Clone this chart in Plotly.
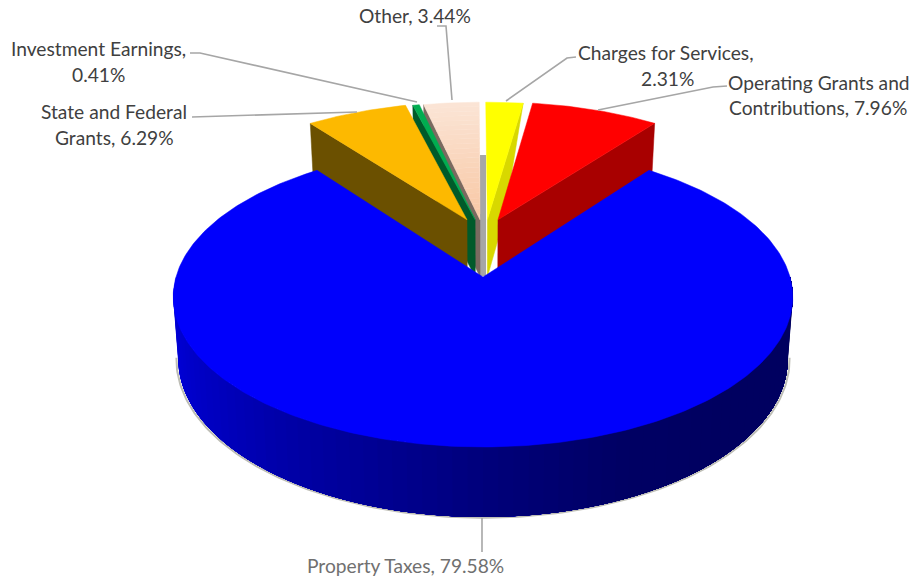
import numpy as np
import plotly.graph_objects as go

# Revenue sources, listed clockwise starting from the large slice
categories = ["Property Taxes", "State and Federal Grants", "Investment Earnings",
              "Other", "Charges for Services", "Operating Grants and Contributions"]
shares = [79.58, 6.29, 0.41, 3.44, 2.31, 7.96]

top_colors = ["#0000FC", "#FDB900", "#00AD50", "#FBE3D4", "#FFFF00", "#FF0000"]
wall_colors = [None, "#6B5000", "#005A2A", "#7A6A60", "#D8D800", "#A80000"]

# Pulled-out slices shift along the table plane (fractions of the radius)
slice_shift_u = [0.0, -0.055, -0.027, -0.0103, 0.015, 0.0515]
slice_shift_v = [0.0, -0.41, -0.41, -0.41, -0.41, -0.41]

# Perspective view of the unit disc
CX, CY = 483.0, 277.0
SCALE_U, SCALE_V = 307.0, 147.3
KEY = 0.1333
THICKNESS = 60.7
BASE_SHRINK = 0.984


def project(u, v, z=0.0):
    """Map disc coordinates (u right, v towards the viewer) to page pixels; z=1 is the underside."""
    u, v = np.asarray(u, float), np.asarray(v, float)
    w = 1 - KEY * v
    shrink = 1 - (1 - BASE_SHRINK) * z
    return CX + SCALE_U * u / w * shrink, CY + SCALE_V * v / w + THICKNESS * z / w


def polar(deg, r=1.0):
    a = np.radians(deg)
    return r * np.sin(a), -r * np.cos(a)


def polygon(xs, ys, color, width=0.0):
    xs, ys = list(map(float, xs)), list(map(float, ys))
    return go.Scatter(x=xs + [xs[0]], y=ys + [ys[0]], mode="lines", fill="toself",
                      fillcolor=color, line=dict(color=color, width=width),
                      hoverinfo="skip", showlegend=False)


# Slice angle ranges: the large slice is centred on the viewer
edges = [180 - shares[0] * 1.8]
for s in shares:
    edges.append(edges[-1] + s * 3.6)

fig = go.Figure()


def add_wall(i, wall_edge, wall_reach=1.0):
    """Radial wall on one side of a pulled-out slice."""
    du, dv = slice_shift_u[i], slice_shift_v[i]
    rim_u, rim_v = polar(wall_edge)
    low_u, low_v = polar(wall_edge, wall_reach)
    tx0, ty0 = project(du, dv)
    tx1, ty1 = project(rim_u + du, rim_v + dv)
    bx1, by1 = project(low_u + du, low_v + dv, 1)
    bx0, by0 = project(du, dv, 1)
    fig.add_trace(polygon([tx0, tx1, bx1, bx0], [ty0, ty1, by1, by0], wall_colors[i], 0.5))


def add_top(i, steps=40):
    du, dv = slice_shift_u[i], slice_shift_v[i]
    u, v = polar(np.linspace(edges[i], edges[i + 1], steps))
    x, y = project(u + du, v + dv)
    tx0, ty0 = project(du, dv)
    fig.add_trace(polygon(np.r_[tx0, x], np.r_[ty0, y], top_colors[i], 0.5))


def add_graded_top(i, inner=(248, 200, 165), outer=(251, 229, 214), bands=24):
    """Top whose tint deepens towards the centre, painted as concentric bands."""
    du, dv = slice_shift_u[i], slice_shift_v[i]
    a = np.linspace(edges[i], edges[i + 1], 12)
    radii = np.linspace(0, 1, bands + 1)
    for k in range(bands):
        r0, r1 = radii[k], radii[k + 1]
        t = (r0 + r1) / 2
        col = [round(inner[c] + (outer[c] - inner[c]) * t) for c in range(3)]
        ui, vi = polar(a, r0)
        uo, vo = polar(a[::-1], r1)
        x, y = project(np.r_[ui, uo] + du, np.r_[vi, vo] + dv)
        fig.add_trace(polygon(x, y, f"rgb({col[0]},{col[1]},{col[2]})", 0.5))


# Pulled-out slices, painted from the middle of the gap outwards
add_wall(3, edges[3])
add_graded_top(3)
add_wall(2, edges[2])
add_top(2)
add_wall(1, edges[1])
add_top(1)
add_wall(4, edges[5], 0.45)
add_top(4)
add_wall(5, edges[6])
add_top(5)

# Soft shadow under the near rim
arc = np.linspace(97, 263, 160)
su, sv = polar(arc)
sx, sy = project(su, sv, 1)
fig.add_trace(go.Scatter(x=sx + 1.8 * np.sign(su) * np.abs(su), y=sy + 0.8, mode="lines",
                         line=dict(color="#BEBEB6", width=2.0), hoverinfo="skip", showlegend=False))

# Side of the large slice: each strip runs on to the right-hand end so no seams show
strip_edges = np.linspace(270, 90, 73)
for a0 in strip_edges[:-1]:
    aa = np.linspace(a0, 90, 80)
    su, sv = polar(aa)
    xt, yt = project(su, sv, 0)
    xb, yb = project(su, sv, 1)
    t = (270 - a0) / 180
    blue = round(np.interp(t, [0, 0.2, 0.4, 0.5, 0.62, 0.75, 1], [225, 190, 145, 122, 100, 96, 96]))
    fig.add_trace(polygon(np.r_[xt, xb[::-1]], np.r_[yt, yb[::-1]], f"rgb(0,0,{blue})"))

# Top of the large slice
a = np.linspace(edges[0], edges[1], 300)
bu, bv = polar(a)
bx, by = project(bu, bv)
fig.add_trace(polygon(np.r_[CX, bx], np.r_[CY, by], top_colors[0], 0.5))

# Grey strip visible in the gap behind the centre
fig.add_shape(type="rect", x0=480, x1=486, y0=155, y1=276, fillcolor="#A6A6A6", line_width=0, layer="below")

# Leader lines from labels to slices
leaders = [
    ([190, 200, 417], [53, 53, 102]),
    ([192, 357], [117, 112]),
    ([437, 446, 452], [26, 26, 100]),
    ([576, 567, 506], [57, 58, 101]),
    ([727, 713, 598], [86, 87, 110]),
    ([482, 482], [518, 552]),
]
for lx, ly in leaders:
    fig.add_trace(go.Scatter(x=lx, y=ly, mode="lines", line=dict(color="#A6A6A6", width=1.6),
                             hoverinfo="skip", showlegend=False))

label_lines = [
    ("Other, 3.44%", 415, 15, "#404040"),
    ("Investment Earnings,", 98, 48, "#404040"),
    ("0.41%", 98, 74, "#404040"),
    ("State and Federal", 114, 111, "#404040"),
    ("Grants, 6.29%", 114, 137, "#404040"),
    ("Charges for Services,", 666, 52, "#404040"),
    ("2.31%", 667, 78, "#404040"),
    ("Operating Grants and", 819, 82, "#404040"),
    ("Contributions, 7.96%", 818, 107, "#404040"),
    ("Property Taxes, 79.58%", 405, 565, "#707070"),
]
for text, tx, ty, color in label_lines:
    fig.add_annotation(x=tx, y=ty, text=text, showarrow=False, xanchor="center", yanchor="middle",
                       font=dict(family="Lato", size=19.2, color=color))

fig.update_layout(
    width=913, height=578, margin=dict(l=0, r=0, t=0, b=0),
    paper_bgcolor="white", plot_bgcolor="white", showlegend=False,
    xaxis=dict(range=[0, 913], visible=False, fixedrange=True),
    yaxis=dict(range=[578, 0], visible=False, fixedrange=True),
)
fig.write_html("out.html", config={"displayModeBar": False})
